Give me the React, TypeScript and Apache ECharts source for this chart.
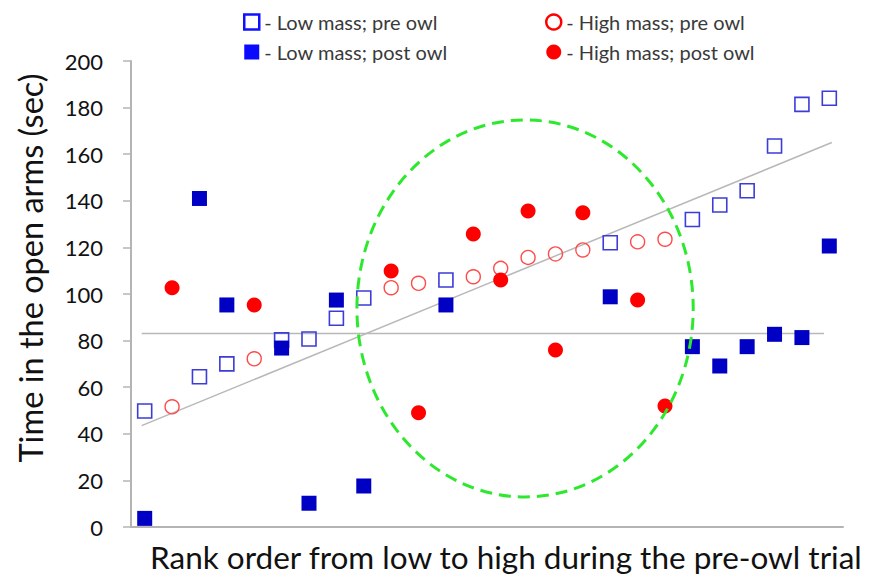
import React, { useEffect, useRef } from "react";
import * as echarts from "echarts";

// Ranks (x positions) and values (sec)
const lowRanks = [1, 3, 4, 6, 7, 8, 9, 12, 18, 21, 22, 23, 24, 25, 26];
const lowPre = [49.8, 64.5, 70, 80.3, 80.7, 89.6, 98.3, 106, 122, 132, 138.2, 144.3, 163.5, 181.4, 184];
const lowPost = [3.7, 141, 95.3, 76.8, 10.2, 97.4, 17.6, 95.3, 98.8, 77.4, 69.1, 77.4, 82.7, 81.3, 120.6];
const highRanks = [2, 5, 10, 11, 13, 14, 15, 16, 17, 19, 20];
const highPre = [51.6, 72.2, 102.7, 104.6, 107.4, 111, 115.7, 117.2, 118.9, 122.4, 123.5];
const highPost = [102.7, 95.3, 109.9, 49, 125.8, 106, 135.6, 76, 134.9, 97.4, 51.9];

const trendLine = [[0.89, 43.5], [26.09, 165]];
const meanLine = [[0.89, 83.1], [25.81, 83.1]];
const ellipseCenter = [14.89, 93.8];
const ellipseRadius = [6.14, 80.9];

const yMin = 0;
const yMax = 200;
const yInterval = 20;

const seriesNames = [
  "Low mass; pre owl",
  "High mass; pre owl",
  "Low mass; post owl",
  "High mass; post owl",
];

const FONT = "Lato";

const zip = (xs: number[], ys: number[]) => xs.map((x, i) => [x, ys[i]]);

export default function App() {
  const ref = useRef<HTMLDivElement>(null);
  useEffect(() => {
    if (!ref.current) return;
    const chart = echarts.init(ref.current, null, { renderer: "svg" });
    const legendText = {
      fontFamily: FONT,
      fontSize: 20,
      lineHeight: 20,
      color: "#3a3a3a",
    };
    const legendBase = {
      orient: "vertical",
      top: 12,
      itemWidth: 15,
      itemHeight: 15,
      itemGap: 10,
      formatter: "- {name}",
      textStyle: legendText,
      selectedMode: false,
      padding: 0,
    };
    const hollowIcon = (c: string) => ({ color: "#ffffff", borderColor: c, borderWidth: 2.5, opacity: 1 });
    const filledIcon = (c: string) => ({ color: c, borderWidth: 0, opacity: 1 });
    chart.setOption({
      animation: false,
      backgroundColor: "#ffffff",
      grid: { left: 131, right: 28, top: 61, bottom: 49, containLabel: false },
      legend: [
        {
          ...legendBase,
          left: 243,
          data: [
            { name: seriesNames[0], itemStyle: hollowIcon("#1010ff") },
            { name: seriesNames[2], itemStyle: filledIcon("#0a0aff") },
          ],
        },
        {
          ...legendBase,
          left: 545,
          data: [
            { name: seriesNames[1], itemStyle: hollowIcon("#ff0000") },
            { name: seriesNames[3], itemStyle: filledIcon("#ff0000") },
          ],
        },
      ],
      xAxis: {
        type: "value",
        min: 0.5,
        max: 26.5,
        axisLine: { show: true, lineStyle: { color: "#b4b4b4", width: 2 } },
        axisTick: { show: false },
        axisLabel: { show: false },
        splitLine: { show: false },
      },
      yAxis: {
        type: "value",
        min: yMin,
        max: yMax,
        interval: yInterval,
        axisLine: { show: true, lineStyle: { color: "#b4b4b4", width: 2 } },
        axisTick: { show: true, length: 8, lineStyle: { color: "#b4b4b4", width: 1.5 } },
        axisLabel: {
          margin: 28,
          fontFamily: FONT,
          fontSize: 22,
          color: "#111111",
        },
        splitLine: { show: false },
      },
      graphic: [
        {
          type: "text",
          x: 30,
          y: 268,
          rotation: Math.PI / 2,
          style: {
            text: "Time in the open arms (sec)",
            fontFamily: FONT,
            fontSize: 32.5,
            fill: "#111111",
            textAlign: "center",
            textVerticalAlign: "middle",
          },
        },
        {
          type: "text",
          x: 150,
          y: 557,
          style: {
            text: "Rank order from low to high during the pre-owl trial",
            fontFamily: FONT,
            fontSize: 31.5,
            fill: "#111111",
            textAlign: "left",
            textVerticalAlign: "middle",
          },
        },
      ],
      series: [
        {
          type: "line",
          data: trendLine,
          symbol: "none",
          silent: true,
          lineStyle: { color: "#b8b8b8", width: 1.5 },
          z: 1,
        },
        {
          type: "line",
          data: meanLine,
          symbol: "none",
          silent: true,
          lineStyle: { color: "#b8b8b8", width: 1.5 },
          z: 1,
        },
        {
          name: seriesNames[0],
          type: "scatter",
          data: zip(lowRanks, lowPre),
          symbol: "rect",
          symbolSize: 14,
          itemStyle: { color: "rgba(255,255,255,0)", borderColor: "#3c3cd8", borderWidth: 1.6, opacity: 1 },
          z: 3,
        },
        {
          name: seriesNames[1],
          type: "scatter",
          data: zip(highRanks, highPre),
          symbol: "circle",
          symbolSize: 14,
          itemStyle: { color: "rgba(255,255,255,0)", borderColor: "#ff4a4a", borderWidth: 1.4, opacity: 1 },
          z: 3,
        },
        {
          name: seriesNames[2],
          type: "scatter",
          data: zip(lowRanks, lowPost),
          symbol: "rect",
          symbolSize: 15,
          itemStyle: { color: "#0000c4", borderWidth: 0, opacity: 1 },
          z: 4,
        },
        {
          name: seriesNames[3],
          type: "scatter",
          data: zip(highRanks, highPost),
          symbol: "circle",
          symbolSize: 15,
          itemStyle: { color: "#ff0000", opacity: 1 },
          z: 4,
        },
        {
          type: "custom",
          silent: true,
          data: [ellipseCenter],
          z: 6,
          renderItem: (params: any, api: any) => {
            const c = api.coord(ellipseCenter);
            const e = api.coord([
              ellipseCenter[0] + ellipseRadius[0],
              ellipseCenter[1] + ellipseRadius[1],
            ]);
            return {
              type: "ellipse",
              shape: { cx: c[0], cy: c[1], rx: e[0] - c[0], ry: c[1] - e[1] },
              style: {
                fill: "none",
                stroke: "#2ee82e",
                lineWidth: 3,
                lineDash: [12, 7],
              },
            };
          },
        },
      ],
    });
    return () => chart.dispose();
  }, []);
  return (
    <div
      ref={ref}
      style={{ position: "absolute", left: 0, top: 0, width: 871, height: 576 }}
    />
  );
}
